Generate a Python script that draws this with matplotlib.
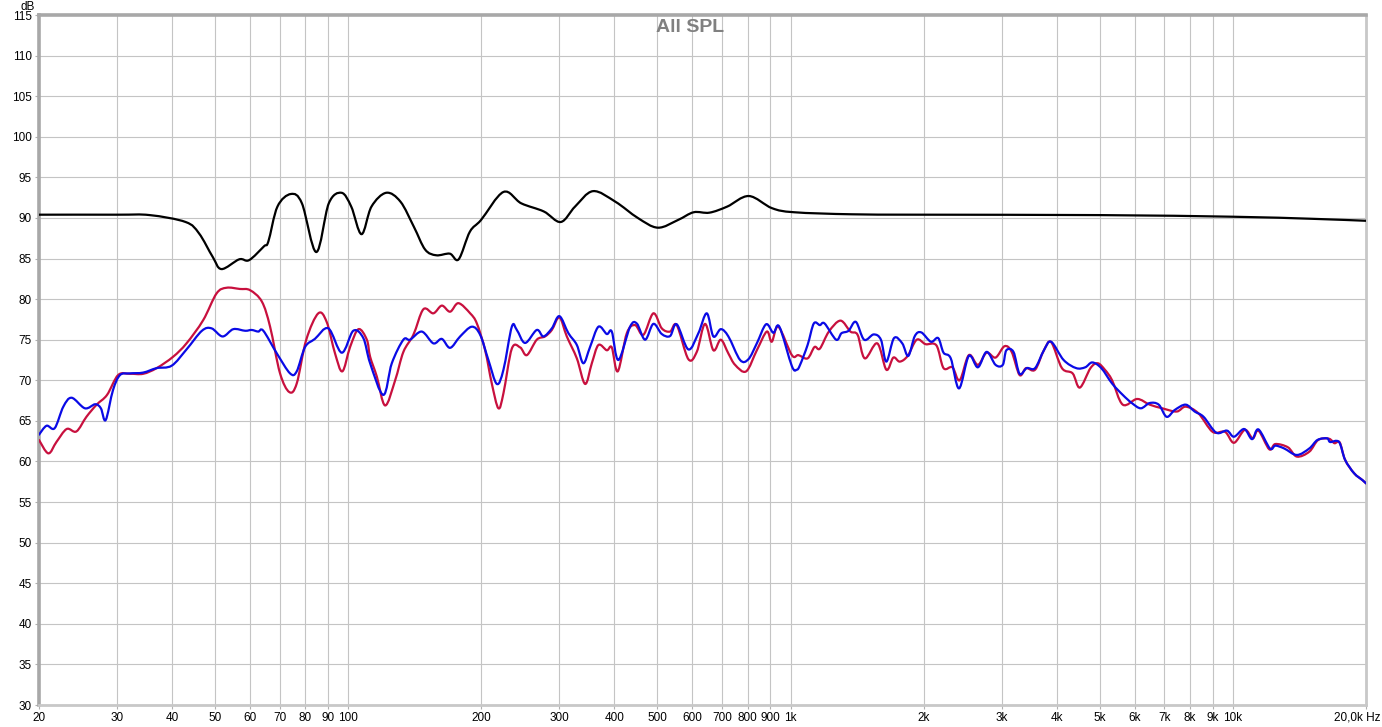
import numpy as np
import matplotlib
matplotlib.use("Agg")
import matplotlib.pyplot as plt
from matplotlib.path import Path
from matplotlib.patches import PathPatch

# frequency response data (Hz, dB)
black_f = [20, 30, 35.6, 42.9, 46.0, 49.4, 51.7, 56.7, 59.7, 64.5, 66.0, 69.2, 74.2, 78.6, 84.7,
           90.4, 96.6, 101.6, 107.2, 112.9, 121.9, 131.3, 140.8, 149.3, 158.2, 169.7, 177.7,
           188.4, 199.7, 224.4, 246.2, 276.8, 302.4, 325.8, 357.6, 401.8, 451.6, 501.2, 556.8,
           604, 655.6, 719.4, 804.8, 908.4, 1020, 1375, 2000, 5000, 10000, 15000, 20000]
black_db = [90.4, 90.4, 90.35, 89.5, 88.1, 85.2, 83.7, 84.9, 84.8, 86.5, 87.1, 91.4, 92.95, 91.8, 85.8,
            91.8, 93.1, 91.4, 88.0, 91.4, 93.1, 92.0, 88.9, 86.1, 85.4, 85.6, 84.9,
            88.3, 89.75, 93.2, 91.8, 90.8, 89.5, 91.4, 93.3, 92.0, 90.0, 88.8, 89.75,
            90.7, 90.65, 91.4, 92.7, 91.2, 90.7, 90.45, 90.4, 90.35, 90.15, 89.9, 89.65]

red_f = [20, 21.0, 21.9, 23.1, 24.3, 25.6, 27.0, 28.5, 30.2, 32.1, 34.4, 36.9, 40.2, 43.1, 47.0,
         50.4, 53.1, 56.9, 60, 63.8, 66.6, 70.1, 73.6, 76.5, 80.4, 85.6, 89.4, 93.4, 97.0, 101.0,
         105.5, 110.2, 112.1, 116.1, 121.2, 127.7, 133.3, 140.4, 147.9, 155.8, 162.8, 170.0,
         177.5, 188.7, 195.4, 204.0, 211.2, 218.6, 224.4, 234.4, 244.8, 253.5, 266.9, 278.6,
         288.7, 300.3, 312.1, 328.8, 343.3, 355.5, 367.9, 384.3, 394.4, 406.9, 426.5, 445.3,
         464.9, 489.7, 511.6, 534.2, 553.1, 587.6, 613.9, 641.0, 669.3, 695.7, 723.7, 749.4,
         793.8, 839.2, 883.8, 907.0, 938.8, 1007, 1042, 1093, 1133, 1165, 1221, 1297, 1366,
         1418, 1472, 1571, 1647, 1708, 1766, 1840, 1929, 2020, 2137, 2218, 2323, 2412, 2530,
         2652, 2775, 2908, 3047, 3162, 3295, 3408, 3572, 3740, 3883, 4108, 4343, 4509, 4766,
         4948, 5137, 5334, 5638, 6079, 6487, 6927, 7463, 7823, 8353, 9000, 9602, 10060, 10645,
         11092, 11426, 12087, 12477, 13316, 13954, 14886, 15594, 16494, 16966, 17441, 17938,
         18798, 19639, 20000]
red_db = [62.65, 61.0, 62.4, 64.0, 63.7, 65.5, 67.0, 68.2, 70.65, 70.8, 70.8, 71.5, 72.9, 74.55, 77.4,
          80.7, 81.4, 81.25, 81.1, 79.7, 76.6, 70.9, 68.55, 69.6, 75.0, 78.25, 77.2, 73.3, 71.1, 74.1,
          76.3, 75.0, 72.9, 70.45, 66.9, 70.0, 73.5, 75.6, 78.75, 78.25, 79.2, 78.45,
          79.5, 78.25, 77.0, 73.7, 69.6, 66.55, 68.4, 73.9, 74.05, 73.1, 75.0, 75.4,
          76.2, 77.75, 75.4, 72.7, 69.55, 72.1, 74.35, 73.7, 74.05, 71.1, 75.8, 76.8,
          75.6, 78.25, 76.4, 76.0, 76.8, 72.6, 73.5, 76.95, 73.7, 75.0, 73.3, 71.9,
          71.1, 73.7, 76.0, 74.75, 76.6, 73.1, 73.1, 72.7, 74.1, 73.9, 76.0, 77.35, 76.0,
          75.6, 72.7, 74.55, 71.3, 72.8, 72.3, 73.0, 75.0, 74.45, 74.3, 71.5, 71.6, 70.0, 73.1,
          71.9, 73.4, 72.8, 74.2, 73.5, 70.65, 71.5, 71.3, 73.7, 74.7, 71.5, 70.85, 69.1, 71.5,
          72.1, 71.3, 70.0, 67.0, 67.7, 67.0, 66.55, 66.15, 66.75, 65.95, 63.65, 63.65, 62.3, 63.9,
          62.85, 63.8, 61.5, 62.15, 61.75, 60.6, 61.2, 62.65, 62.8, 62.25, 62.35, 60.2,
          58.55, 57.7, 57.3]

blue_f = [20, 20.8, 21.7, 22.7, 23.7, 25.4, 26.8, 27.6, 28.3, 29.4, 30.5, 32.1, 34.4, 36.9, 39.9,
          43.1, 46.7, 49.1, 52.0, 55.0, 58.5, 60.5, 62.6, 64.3, 69.0, 73.9, 76.5, 79.9, 84.1, 90.2,
          96.7, 102.7, 108.2, 112.1, 120.1, 125.5, 133.3, 138.0, 146.7, 155.8, 162.8, 170.0,
          179.1, 190.3, 198.8, 207.5, 216.8, 224.4, 234.4, 240.6, 251.2, 266.9, 276.3, 288.7,
          300.3, 314.7, 328.8, 340.1, 352.2, 367.9, 384.3, 394.4, 408.2, 433.8, 449.2, 469.1,
          489.7, 511.6, 534.2, 553.1, 587.6, 619.0, 646.7, 669.3, 695.7, 723.7, 769.3, 803.3,
          839.2, 880.5, 914.6, 943.7, 1007, 1033, 1051, 1093, 1129, 1165, 1194, 1268, 1304,
          1353, 1405, 1467, 1542, 1601, 1647, 1714, 1789, 1846, 1910, 1975, 2077, 2157, 2218,
          2303, 2404, 2530, 2652, 2775, 2908, 3019, 3076, 3192, 3295, 3421, 3572, 3740, 3883,
          4144, 4425, 4637, 4811, 5042, 5334, 5638, 5910, 6194, 6487, 6799, 7084, 7393, 7823,
          8198, 8587, 9170, 9698, 10060, 10606, 11050, 11426, 12131, 12477, 13068, 13954,
          14886, 15536, 16340, 16589, 17376, 17938, 18798, 19639, 20000]
blue_db = [63.3, 64.4, 64.1, 66.75, 67.85, 66.55, 67.05, 66.55, 65.1, 68.8, 70.65, 70.85, 70.95, 71.5, 71.8,
           73.8, 76.1, 76.4, 75.4, 76.3, 76.1, 76.2, 76.0, 76.1, 73.3, 70.85, 71.1, 74.1, 75.1, 76.4,
           73.4, 76.1, 75.2, 72.1, 68.2, 72.1, 75.0, 75.0, 76.0, 74.55, 75.1, 74.0,
           75.4, 76.6, 75.6, 72.5, 69.55, 71.3, 76.6, 76.2, 74.6, 76.2, 75.4, 76.4,
           77.9, 75.8, 74.35, 72.1, 74.1, 76.6, 75.7, 76.0, 72.5, 76.6, 77.0, 75.0,
           76.95, 75.7, 75.45, 76.9, 73.8, 75.8, 78.25, 75.4, 76.3, 75.4, 72.5, 72.6,
           74.55, 76.9, 75.85, 76.6, 71.75, 71.3, 71.9, 74.35, 77.0, 76.8, 77.0, 75.0, 75.8,
           76.1, 77.2, 75.0, 75.65, 75.0, 72.3, 75.2, 74.55, 73.0, 75.45, 75.9, 74.75, 75.2, 73.4,
           72.7, 69.0, 73.0, 71.6, 73.5, 71.9, 71.9, 73.7, 73.5, 70.8, 71.5, 71.5, 73.7, 74.75,
           72.5, 71.5, 71.6, 72.2, 71.5, 69.6, 68.2, 67.2, 66.55, 67.2, 67.0, 65.5, 66.35, 67.0,
           66.15, 65.5, 63.55, 63.8, 63.05, 64.0, 62.75, 63.95, 61.6, 61.95, 61.6, 60.8,
           61.6, 62.65, 62.85, 62.4, 62.4, 60.2, 58.55, 57.7, 57.3]

x_ticks = [20, 30, 40, 50, 60, 70, 80, 90, 100, 200, 300, 400, 500, 600, 700, 800, 900,
           1000, 2000, 3000, 4000, 5000, 6000, 7000, 8000, 9000, 10000, 20000]
x_labels = ['20', '30', '40', '50', '60', '70', '80', '90', '100', '200', '300', '400', '500',
            '600', '700', '800', '900', '1k', '2k', '3k', '4k', '5k', '6k', '7k', '8k', '9k',
            '10k', '']
y_ticks = list(range(30, 116, 5))


def smooth_curve(ax, freqs, levels, color):
    # draw a Catmull-Rom curve through the points as cubic Bezier segments (in log-f space)
    lx = np.log10(np.asarray(freqs, dtype=float))
    y = np.asarray(levels, dtype=float)
    px = np.concatenate([[lx[0]], lx, [lx[-1]]])
    py = np.concatenate([[y[0]], y, [y[-1]]])
    verts = [(freqs[0], levels[0])]
    codes = [Path.MOVETO]
    for i in range(1, len(px) - 2):
        c1x = px[i] + (px[i + 1] - px[i - 1]) / 6
        c1y = py[i] + (py[i + 1] - py[i - 1]) / 6
        c2x = px[i + 1] - (px[i + 2] - px[i]) / 6
        c2y = py[i + 1] - (py[i + 2] - py[i]) / 6
        verts += [(10 ** c1x, c1y), (10 ** c2x, c2y), (10 ** px[i + 1], py[i + 1])]
        codes += [Path.CURVE4] * 3
    patch = PathPatch(Path(verts, codes), facecolor='none', edgecolor=color, lw=1.6,
                      joinstyle='round', capstyle='round', zorder=4)
    ax.add_patch(patch)


plt.rcParams['font.family'] = ['Liberation Sans', 'DejaVu Sans']

W, H = 1382, 727
fig = plt.figure(figsize=(W / 100, H / 100), dpi=100)
ax = fig.add_axes([39 / W, 1 - 705 / H, 1327 / W, 690 / H])

ax.set_xscale('log')
ax.set_xlim(20, 20000)
ax.set_ylim(30, 115)

smooth_curve(ax, black_f, black_db, 'black')
smooth_curve(ax, red_f, red_db, '#c8103e')
smooth_curve(ax, blue_f, blue_db, '#0a0ae6')

ax.set_xticks(x_ticks)
ax.set_xticklabels(x_labels)
ax.minorticks_off()
ax.set_yticks(y_ticks)
ax.set_yticklabels([str(v) for v in y_ticks])
ax.tick_params(axis='both', labelsize=8.5, length=3, color='#b0b0b0', pad=2)
ax.grid(True, color='#c4c4c4', lw=0.8)
ax.set_axisbelow(True)

for side in ['top', 'left']:
    ax.spines[side].set_color('#a8a8a8')
    ax.spines[side].set_linewidth(2.6)
for side in ['bottom', 'right']:
    ax.spines[side].set_color('#c8c8c8')
    ax.spines[side].set_linewidth(2.0)

fig.text(1380 / W, 1 - 717 / H, '20,0k Hz', ha='right', va='center', fontsize=8.5)
fig.text(28 / W, 1 - 7 / H, 'dB', ha='center', va='center', fontsize=8.5)
fig.text(690 / W, 1 - 27 / H, 'All SPL', ha='center', va='center', fontsize=14,
         fontweight='bold', color='#808080')

fig.savefig('out.png', dpi=100)
